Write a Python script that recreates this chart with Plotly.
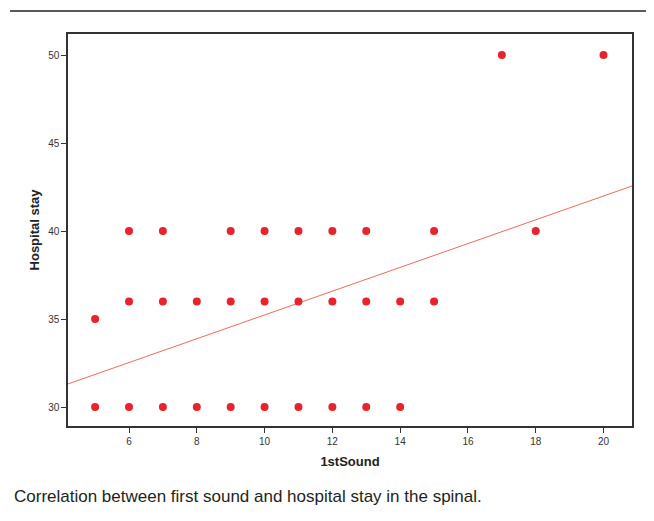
import plotly.graph_objects as go

# Data
sound_30 = [5, 6, 7, 8, 9, 10, 11, 12, 13, 14]
sound_35 = [5]
sound_36 = [6, 7, 8, 9, 10, 11, 12, 13, 14, 15]
sound_40 = [6, 7, 9, 10, 11, 12, 13, 15, 18]
sound_50 = [17, 20]

first_sound = sound_30 + sound_35 + sound_36 + sound_40 + sound_50
hospital_stay = ([30] * len(sound_30) + [35] * len(sound_35) + [36] * len(sound_36)
                 + [40] * len(sound_40) + [50] * len(sound_50))

# Fit line (at the axis edges)
fit_x = [4.2, 20.84]
fit_y = [31.31, 42.56]

x_ticks = [6, 8, 10, 12, 14, 16, 18, 20]
y_ticks = [30, 35, 40, 45, 50]

fig = go.Figure()
fig.add_trace(go.Scatter(
    x=fit_x, y=fit_y, mode="lines",
    line=dict(color="#F06A5E", width=1), showlegend=False, hoverinfo="skip"))
fig.add_trace(go.Scatter(
    x=first_sound, y=hospital_stay, mode="markers",
    marker=dict(color="#E8232B", size=8), showlegend=False))

axis_common = dict(showline=True, linecolor="#333333", linewidth=1.5, mirror=True,
                   ticks="outside", ticklen=5, tickcolor="#333333", showgrid=False,
                   zeroline=False, tickfont=dict(family="Liberation Sans, Arial", size=10, color="#333333"))

fig.update_xaxes(range=[4.2, 20.84], tickvals=x_ticks, **axis_common,
                 title=dict(text="<b>1stSound</b>", standoff=11,
                            font=dict(family="Liberation Sans, Arial", size=13, color="#222222")))
fig.update_yaxes(range=[28.92, 51.2], tickvals=y_ticks, **axis_common,
                 title=dict(text="<b>Hospital stay</b>", standoff=6,
                            font=dict(family="Liberation Sans, Arial", size=13, color="#222222")))

fig.update_layout(
    width=646, height=513,
    margin=dict(l=60, r=22, t=26, b=95),
    plot_bgcolor="white", paper_bgcolor="white",
    shapes=[dict(type="line", xref="paper", yref="paper",
                 x0=-0.1028, x1=1.0319, y0=1.0587, y1=1.0587,
                 line=dict(color="#222222", width=1.5))],
    annotations=[dict(text="Correlation between first sound and hospital stay in the spinal.",
                      xref="paper", yref="paper", x=-0.0993, y=-0.181,
                      xanchor="left", yanchor="middle", showarrow=False,
                      font=dict(family="Liberation Sans, Arial", size=17, color="#231F20"))],
)

fig.write_html("out.html")
